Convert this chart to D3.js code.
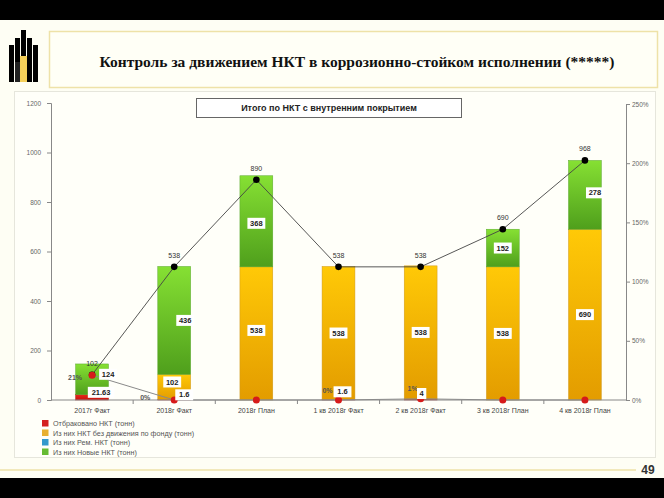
<!DOCTYPE html>
<html><head><meta charset="utf-8">
<script src="https://cdn.jsdelivr.net/npm/d3@7"></script>
<style>html,body{margin:0;padding:0;background:#fefef4;}svg{display:block;}</style>
</head><body>
<script>
// ---- data ----
const categories = ["2017г Факт","2018г Факт","2018г План","1 кв 2018г Факт","2 кв 2018г Факт","3 кв 2018г План","4 кв 2018г План"];
const rejected   = [21.63, 1.6, 0, 1.6, 4, 0, 0];        // Отбраковано НКТ
const idle       = [0, 102, 538, 538, 538, 538, 690];     // без движения по фонду
const repaired   = [0, 0, 0, 0, 0, 0, 0];                 // Рем. НКТ
const newPipes   = [124, 436, 368, 0, 0, 152, 278];       // Новые НКТ
const totalLine  = [102, 538, 890, 538, 538, 690, 968];   // Итого (линия)
const rejectPct  = [0.21, 0, 0, 0, 0.01, 0, 0];           // % отбраковки
const leftTicks  = [0, 200, 400, 600, 800, 1000, 1200];
const rightTicks = [0, 0.5, 1, 1.5, 2, 2.5];
const legendLabels = ["Отбраковано НКТ (тонн)","Из них НКТ без движения по фонду (тонн)","Из них  Рем. НКТ (тонн)","Из них Новые НКТ (тонн)"];
const titleText = "Контроль за движением НКТ в коррозионно-стойком исполнении (*****)";
const boxTitle = "Итого по НКТ с внутренним покрытием";

// label styling (which labels shown + small nudges)
const redLabelShow = [true, true, false, true, true, false, false];
const redNudge = [[9,-5],[10,-5],[0,0],[4,-8],[1,-6],[0,0],[0,0]];
const yellowNudge = [[0,0],[-2,-5],[0,-3],[0,0],[0,0],[0,0],[0,0]];
const greenNudge = [[16,-5],[11,0],[0,2],[0,0],[0,0],[0,0],[10,-2]];
const pctLabelShow = [true, true, false, true, true, false, false];
const pctNudge = [[-17,2],[-29,-3],[0,0],[-11,-10],[-8,-10],[0,0],[0,0]];

const W = 664, H = 498;
const svg = d3.select("body").append("svg").attr("width", W).attr("height", H);

// background
svg.append("rect").attr("width", W).attr("height", H).attr("fill", "#fefef4");
svg.append("rect").attr("x",0).attr("y",0).attr("width",W).attr("height",20).attr("fill","#000");
svg.append("rect").attr("x",0).attr("y",478).attr("width",W).attr("height",20).attr("fill","#000");

// logo (decorative)
const logo = svg.append("g");
const lb = [[9,45,5],[15,38,5],[21,30,5],[27,38,5],[33,45,5]];
lb.forEach(([x,y,w])=>{
  logo.append("rect").attr("x",x).attr("y",y).attr("width",w).attr("height",82-y).attr("fill","#000");
});
logo.append("rect").attr("x",20).attr("y",56).attr("width",7).attr("height",26).attr("fill","#f5d05a");
logo.append("rect").attr("x",15).attr("y",62).attr("width",5).attr("height",20).attr("fill","#222");

// title box
svg.append("rect").attr("x",49.5).attr("y",31.5).attr("width",608).attr("height",56).attr("fill","#fffff6").attr("stroke","#eee2a8").attr("stroke-width",1.5);
svg.append("text").attr("x",357).attr("y",67).attr("text-anchor","middle")
  .attr("font-family","Liberation Serif, serif").attr("font-weight","bold").attr("font-size",15.5)
  .attr("fill","#111").text(titleText);

// chart panel
svg.append("rect").attr("x",14.5).attr("y",91.5).attr("width",641).attr("height",366).attr("fill","#fffff9").attr("stroke","#e6e6dc").attr("stroke-width",1);
// footer line + page number
svg.append("line").attr("x1",0).attr("x2",636).attr("y1",470).attr("y2",470).attr("stroke","#eee2a8").attr("stroke-width",1.5);
svg.append("text").attr("x",648).attr("y",474).attr("text-anchor","middle").attr("font-family","Liberation Sans, Arial, sans-serif")
  .attr("font-weight","bold").attr("font-size",12).attr("fill","#333").text("49");

// scales
const x = d3.scaleBand().domain(categories).range([51, 626]).paddingInner(0.6).paddingOuter(0.3);
const y = d3.scaleLinear().domain([0, 1200]).range([400, 103]);
const yr = d3.scaleLinear().domain([0, 2.5]).range([400, 104]);

// gradients
const defs = svg.append("defs");
function grad(id, top, bottom){
  const g = defs.append("linearGradient").attr("id", id).attr("x1",0).attr("y1",0).attr("x2",0).attr("y2",1);
  g.append("stop").attr("offset","0%").attr("stop-color", top);
  g.append("stop").attr("offset","100%").attr("stop-color", bottom);
}
grad("gRed", "#e52a1a", "#c81010");
grad("gYel", "#ffc907", "#e39c00");
grad("gBlu", "#44aadd", "#2a88bb");
grad("gGrn", "#86e033", "#4f9f1c");

// axes
const fontSans = "Liberation Sans, Arial, sans-serif";
const axL = svg.append("g").attr("transform","translate(51,0)").call(d3.axisLeft(y).tickValues(leftTicks).tickSize(4).tickFormat(d3.format("d")));
const axR = svg.append("g").attr("transform","translate(626,0)").call(d3.axisRight(yr).tickValues(rightTicks).tickSize(4).tickFormat(d3.format(".0%")));
[axL, axR].forEach(a=>{
  a.select(".domain").attr("stroke","#888");
  a.selectAll(".tick line").attr("stroke","#888");
  a.selectAll("text").attr("font-family",fontSans).attr("font-size",6.5).attr("fill","#666");
});
axL.selectAll("text").attr("x",-10);
axR.selectAll("text").attr("x",6);

// stacked bars
const stackKeys = ["rejected","idle","repaired","newPipes"];
const rows = categories.map((c,i)=>({cat:c, rejected:rejected[i], idle:idle[i], repaired:repaired[i], newPipes:newPipes[i]}));
const series = d3.stack().keys(stackKeys)(rows);
const fills = {rejected:"url(#gRed)", idle:"url(#gYel)", repaired:"url(#gBlu)", newPipes:"url(#gGrn)"};
const edge = {rejected:"#b01010", idle:"#d09a20", repaired:"#2a88bb", newPipes:"#5aa830"};
series.forEach(s=>{
  svg.append("g").selectAll("rect").data(s.filter(d=>d[1]-d[0]>0)).join("rect")
    .attr("x", d=>x(d.data.cat)).attr("width", x.bandwidth())
    .attr("y", d=>y(d[1])).attr("height", d=>y(d[0])-y(d[1]))
    .attr("fill", fills[s.key]).attr("stroke", edge[s.key]).attr("stroke-width",0.5);
});

// x axis
const axB = svg.append("g").attr("transform","translate(0,400)");
axB.append("line").attr("x1",51).attr("x2",626).attr("stroke","#888");
const step = x.step();
categories.forEach((c,i)=>{
  if(i>0){
    const bx = x(c) + x.bandwidth()/2 - step/2;
    axB.append("line").attr("x1",bx).attr("x2",bx).attr("y1",0).attr("y2",4).attr("stroke","#888");
  }
});
axB.selectAll("text").data(categories).join("text")
  .attr("x", d=>x(d)+x.bandwidth()/2).attr("y",13).attr("text-anchor","middle")
  .attr("font-family",fontSans).attr("font-size",7).attr("fill","#444").text(d=>d);

// percentage line (right axis)
const cx = i => x(categories[i]) + x.bandwidth()/2;
svg.append("path").datum(rejectPct)
  .attr("d", d3.line().x((d,i)=>cx(i)).y(d=>yr(d)))
  .attr("fill","none").attr("stroke","#8a8a8a").attr("stroke-width",1);

// total line
svg.append("path").datum(totalLine)
  .attr("d", d3.line().x((d,i)=>cx(i)).y(d=>y(d)))
  .attr("fill","none").attr("stroke","#444").attr("stroke-width",0.9);
svg.append("g").selectAll("circle").data(totalLine).join("circle")
  .attr("cx",(d,i)=>cx(i)).attr("cy",d=>y(d)).attr("r",3.3).attr("fill","#000");
svg.append("g").selectAll("text").data(totalLine).join("text")
  .attr("x",(d,i)=>cx(i)).attr("y",d=>y(d)-9).attr("text-anchor","middle")
  .attr("font-family",fontSans).attr("font-size",7).attr("fill","#333").text(d=>d);

svg.append("g").selectAll("circle").data(rejectPct).join("circle")
  .attr("cx",(d,i)=>cx(i)).attr("cy",d=>yr(d)).attr("r",3.5).attr("fill","#d61a1a");
svg.append("g").selectAll("text").data(rejectPct.map((v,i)=>({v,i})).filter(d=>pctLabelShow[d.i])).join("text")
  .attr("x",d=>cx(d.i)+pctNudge[d.i][0]).attr("y",d=>yr(d.v)+pctNudge[d.i][1]+2.5).attr("text-anchor","middle")
  .attr("font-family",fontSans).attr("font-size",7).attr("font-weight","bold").attr("fill","#555").text(d=>d3.format(".0%")(d.v));

// segment value labels (white boxes)
function boxLabel(px, py, txt){
  const g = svg.append("g");
  const w = txt.length*4.3 + 5, h = 11;
  g.append("rect").attr("x",px-w/2).attr("y",py-h/2).attr("width",w).attr("height",h).attr("fill","#fff");
  g.append("text").attr("x",px).attr("y",py+2.6).attr("text-anchor","middle")
    .attr("font-family",fontSans).attr("font-size",7.5).attr("font-weight","bold").attr("fill","#222").text(txt);
}
series.forEach(s=>{
  s.forEach((d,i)=>{
    const v = d[1]-d[0];
    if(v<=0) return;
    let nx=0, ny=0;
    if(s.key==="rejected"){ if(!redLabelShow[i]) return; nx=redNudge[i][0]; ny=redNudge[i][1]; }
    else if(s.key==="idle"){ nx=yellowNudge[i][0]; ny=yellowNudge[i][1]; }
    else if(s.key==="newPipes"){ nx=greenNudge[i][0]; ny=greenNudge[i][1]; }
    const py = (y(d[0])+y(d[1]))/2 + ny;
    boxLabel(cx(i)+nx, py, String(+v.toFixed(2)));
  });
});

// title box inside chart
svg.append("rect").attr("x",196.5).attr("y",98.5).attr("width",265).attr("height",19).attr("fill","#fff").attr("stroke","#666").attr("stroke-width",1);
svg.append("text").attr("x",329).attr("y",111).attr("text-anchor","middle")
  .attr("font-family",fontSans).attr("font-weight","bold").attr("font-size",9).attr("fill","#222").text(boxTitle);

// legend
const legColors = ["#d42020","#e8b030","#3399cc","#66bb33"];
const lg = svg.append("g").attr("transform","translate(42,420)");
legendLabels.forEach((t,i)=>{
  lg.append("rect").attr("x",0).attr("y",i*9.5).attr("width",6.5).attr("height",6.5).attr("fill",legColors[i]);
  lg.append("text").attr("x",11).attr("y",i*9.5+6).attr("font-family",fontSans).attr("font-size",7.2).attr("fill","#555").text(t);
});
</script>
</body></html>
